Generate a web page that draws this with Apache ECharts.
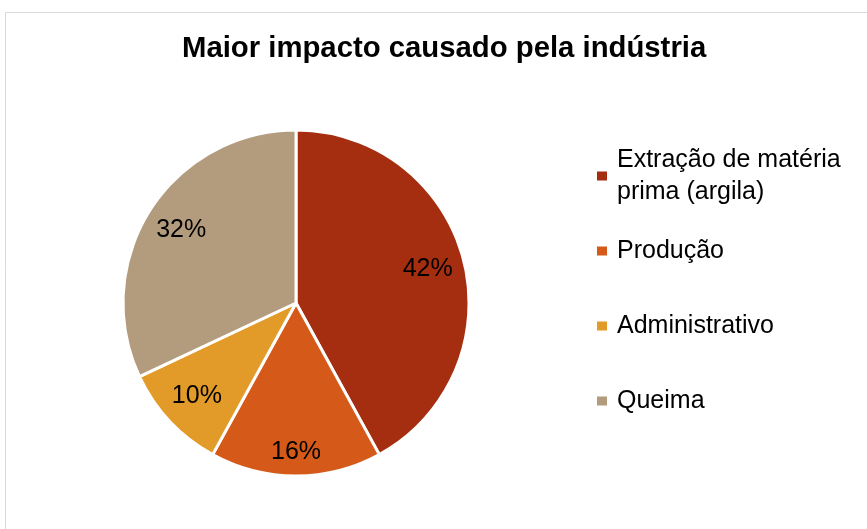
<!DOCTYPE html>
<html>
<head>
<meta charset="utf-8">
<script src="https://cdn.jsdelivr.net/npm/echarts@6/dist/echarts.min.js"></script>
<style>
  html, body { margin: 0; padding: 0; background: #fff; }
  #main { width: 867px; height: 529px; }
</style>
</head>
<body>
<div id="main"></div>
<script>
const titleText = 'Maior impacto causado pela indústria';
const categories = ['Extração de matéria prima (argila)', 'Produção', 'Administrativo', 'Queima'];
const values = [42, 16, 10, 32];
const colors = ['#A52E10', '#D55A19', '#E29A28', '#B39C7D'];

const font = '"Liberation Sans", Arial, sans-serif';

const chart = echarts.init(document.getElementById('main'), null, { renderer: 'canvas' });

const pieData = categories.map((name, i) => ({
  name: name,
  value: values[i],
  itemStyle: { color: colors[i] }
}));

// legend: every entry gets the same box height so the markers sit 75px apart
const legendData = categories.map((name, i) => ({
  name: name,
  icon: 'rect',
  itemStyle: { color: colors[i], borderWidth: 0 },
  textStyle: { padding: i === 0 ? [32, 0, 0, 5] : [32, 0, 32, 5] }
}));

// label of Produção sits a bit lower in the original
const labelData = categories.map((name, i) => ({
  name: name,
  value: values[i],
  label: i === 1 ? { offset: [0, 13] } : {}
}));

const option = {
  backgroundColor: '#fff',
  animation: false,
  color: colors,
  title: {
    text: titleText,
    left: 182,
    top: 32,
    padding: 0,
    textStyle: {
      fontFamily: font,
      fontSize: 29.3,
      fontWeight: 'bold',
      color: '#000',
      lineHeight: 34
    }
  },
  legend: {
    orient: 'vertical',
    left: 597,
    top: 128,
    padding: 0,
    itemGap: -21,
    itemWidth: 10,
    itemHeight: 9,
    selectedMode: false,
    data: legendData,
    itemStyle: { borderWidth: 0 },
    formatter: function (name) {
      return name === categories[0] ? 'Extração de matéria\nprima (argila)' : name;
    },
    textStyle: {
      fontFamily: font,
      fontSize: 25,
      lineHeight: 32,
      color: '#000'
    }
  },
  graphic: [{
    type: 'rect',
    silent: true,
    shape: { x: 5.5, y: 12.5, width: 900, height: 600 },
    style: { fill: 'none', stroke: '#d9d9d9', lineWidth: 1 }
  }],
  series: [{
    name: 'main',
    type: 'pie',
    center: [296, 303],
    radius: [0, 173],
    startAngle: 90,
    clockwise: true,
    data: pieData,
    label: { show: false },
    labelLine: { show: false },
    emphasis: { disabled: true },
    itemStyle: { borderColor: '#fff', borderWidth: 3 }
  }, {
    // transparent copy, only used to push the percent labels further out
    name: 'labels',
    type: 'pie',
    center: [296, 303],
    radius: [0, 266],
    startAngle: 90,
    clockwise: true,
    silent: true,
    z: 5,
    data: labelData,
    itemStyle: { color: 'rgba(0,0,0,0)' },
    emphasis: { disabled: true },
    labelLine: { show: false },
    label: {
      show: true,
      position: 'inside',
      formatter: '{c}%',
      fontFamily: font,
      fontSize: 25,
      color: '#000'
    }
  }]
};

chart.setOption(option);
</script>
</body>
</html>
